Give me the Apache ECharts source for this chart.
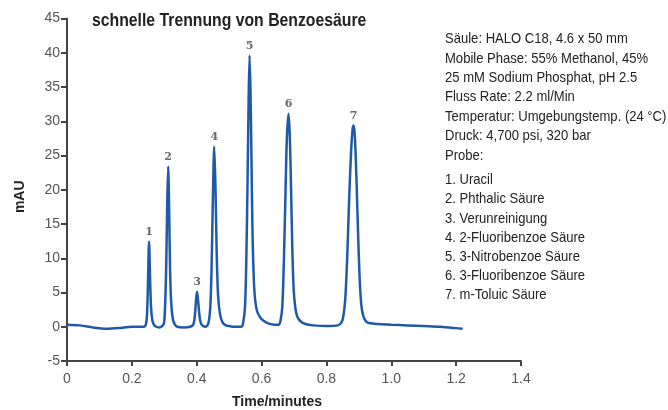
<!DOCTYPE html>
<html><head><meta charset="utf-8">
<script src="https://cdn.jsdelivr.net/npm/echarts@6/dist/echarts.min.js"></script>
<style>html,body{margin:0;padding:0;background:#fff}#c{width:668px;height:410px}</style>
</head><body><div id="c"></div>
<script>
const titleText = 'schnelle Trennung von Benzoesäure';
const xTickLabels = ['0', '0.2', '0.4', '0.6', '0.8', '1.0', '1.2', '1.4'];
const yName = 'mAU';
const xName = 'Time/minutes';
// chromatogram trace: time (min) and absorbance (mAU)
const traceTime = [
  0.00, 0.04, 0.08, 0.12, 0.16, 0.20, 0.236, 0.243, 0.247, 0.250, 0.253, 0.256, 0.259, 0.263, 0.268, 0.275,
  0.285, 0.298, 0.302, 0.306, 0.309, 0.312, 0.315, 0.318, 0.322, 0.327, 0.333, 0.340,
  0.360, 0.380, 0.390, 0.395, 0.398, 0.401, 0.404, 0.408, 0.413, 0.420,
  0.428, 0.436, 0.442, 0.446, 0.450, 0.454, 0.458, 0.462, 0.466, 0.472, 0.480, 0.490, 0.500, 0.520,
  0.537, 0.543, 0.549, 0.553, 0.557, 0.560, 0.563, 0.566, 0.569, 0.572, 0.576, 0.580, 0.586, 0.595, 0.605, 0.620, 0.640,
  0.652, 0.658, 0.664, 0.669, 0.674, 0.678, 0.683, 0.687, 0.691, 0.695, 0.699, 0.704, 0.710, 0.720, 0.735, 0.760,
  0.800, 0.835, 0.846, 0.852, 0.858, 0.864, 0.870, 0.876, 0.881, 0.884, 0.888, 0.893, 0.898, 0.903, 0.908, 0.914, 0.922, 0.935, 0.960,
  1.000, 1.050, 1.100, 1.150, 1.200, 1.220
];
const traceValue = [
  0.3, 0.2, -0.1, -0.3, -0.2, 0.0, 0.0, 0.3, 2.0, 7.0, 12.4, 7.5, 3.0, 1.0, 0.3, 0.0,
  -0.1, 0.4, 2.5, 9.0, 18.0, 23.4, 17.0, 8.0, 3.0, 1.0, 0.3, 0.0,
  -0.1, 0.0, 0.4, 2.0, 4.0, 5.1, 4.0, 1.8, 0.5, 0.1,
  0.0, 0.5, 3.0, 9.0, 19.0, 26.3, 20.0, 10.0, 4.5, 1.8, 0.6, 0.2, 0.1, 0.0,
  0.0, 0.5, 3.0, 10.0, 22.0, 33.0, 39.6, 34.0, 24.0, 14.0, 7.0, 4.0, 2.3, 1.4, 0.9, 0.5, 0.3,
  0.3, 0.8, 3.0, 10.0, 20.0, 27.5, 31.1, 28.0, 20.0, 11.0, 5.5, 2.8, 1.5, 0.8, 0.4, 0.2,
  0.1, 0.2, 0.6, 1.5, 4.0, 10.0, 18.5, 25.5, 29.0, 29.4, 27.5, 21.0, 13.0, 6.5, 3.0, 1.5, 0.8, 0.5, 0.4,
  0.3, 0.2, 0.1, 0.0, -0.2, -0.3
];
// peak labels
const peakNames = ['1', '2', '3', '4', '5', '6', '7'];
const peakTime = [0.253, 0.312, 0.401, 0.454, 0.563, 0.683, 0.884];
const peakHeight = [12.4, 23.4, 5.1, 26.3, 39.6, 31.1, 29.4];
// method text
const infoLines = [
  'Säule: HALO C18, 4.6 x 50 mm',
  'Mobile Phase: 55% Methanol, 45%',
  '25 mM Sodium Phosphat, pH 2.5',
  'Fluss Rate: 2.2 ml/Min',
  'Temperatur: Umgebungstemp. (24 °C)',
  'Druck: 4,700 psi, 320 bar'
];
const sampleHeader = 'Probe:';
const sampleLines = [
  '1. Uracil',
  '2. Phthalic Säure',
  '3. Verunreinigung',
  '4. 2-Fluoribenzoe Säure',
  '5. 3-Nitrobenzoe Säure',
  '6. 3-Fluoribenzoe Säure',
  '7. m-Toluic Säure'
];

const FONT = "'Liberation Sans', Arial, sans-serif";
const chart = echarts.init(document.getElementById('c'), null, {renderer: 'canvas'});
function line(t, x, y, size, sx, weight) {
  return {
    type: 'text', x: x, y: y, scaleX: sx,
    style: {text: t, font: (weight || 'normal') + ' ' + size + 'px ' + FONT, fill: '#222', verticalAlign: 'middle', align: 'left'}
  };
}
const textEls = [];
textEls.push(line(titleText, 92, 21, 19, 0.83, 'bold'));
infoLines.forEach((t, i) => textEls.push(line(t, 445, 39 + i * 19.4, 15, 0.87)));
textEls.push(line(sampleHeader, 445, 156, 15, 0.87));
sampleLines.forEach((t, i) => textEls.push(line(t, 445, 180 + i * 19.2, 15, 0.87)));

chart.setOption({
  animation: false,
  grid: {left: 67, right: 147, top: 18.5, bottom: 49, containLabel: false, outerBoundsMode: 'none'},
  xAxis: {
    type: 'value', min: 0, max: 1.4, interval: 0.2,
    name: xName, nameLocation: 'middle', nameGap: 34,
    nameTextStyle: {fontFamily: FONT, fontWeight: 'bold', fontSize: 14, color: '#222', padding: [0, 34, 0, 0]},
    axisLine: {onZero: false, lineStyle: {color: '#444', width: 2}},
    axisTick: {show: true, length: 5, lineStyle: {color: '#444', width: 2}},
    axisLabel: {
      margin: 11, fontFamily: FONT, fontSize: 14, color: '#555',
      formatter: (v) => xTickLabels[Math.round(v / 0.2)]
    },
    splitLine: {show: false}
  },
  yAxis: {
    type: 'value', min: -5, max: 45, interval: 5,
    name: yName, nameLocation: 'middle', nameGap: 40, nameRotate: 90,
    nameTextStyle: {fontFamily: FONT, fontWeight: 'bold', fontSize: 14, color: '#222', padding: [0, 14, 0, 0]},
    axisLine: {show: true, lineStyle: {color: '#444', width: 2}},
    axisTick: {show: true, length: 6, lineStyle: {color: '#444', width: 2}},
    axisLabel: {margin: 7, fontFamily: FONT, fontSize: 14, color: '#555'},
    splitLine: {show: false}
  },
  series: [
    {
      type: 'line', showSymbol: false, smooth: 0.3,
      data: traceTime.map((t, i) => [t, traceValue[i]]),
      lineStyle: {color: '#1f5aa8', width: 2.5},
      z: 3
    },
    {
      type: 'scatter', symbolSize: 0,
      data: peakTime.map((t, i) => ({value: [t, peakHeight[i]], name: peakNames[i]})),
      label: {
        show: true, position: 'top', distance: 4,
        formatter: (p) => p.name,
        fontFamily: "'DejaVu Serif', serif", fontSize: 11, fontWeight: 'bold', color: '#444'
      },
      z: 4
    }
  ],
  graphic: textEls
});
</script></body></html>
